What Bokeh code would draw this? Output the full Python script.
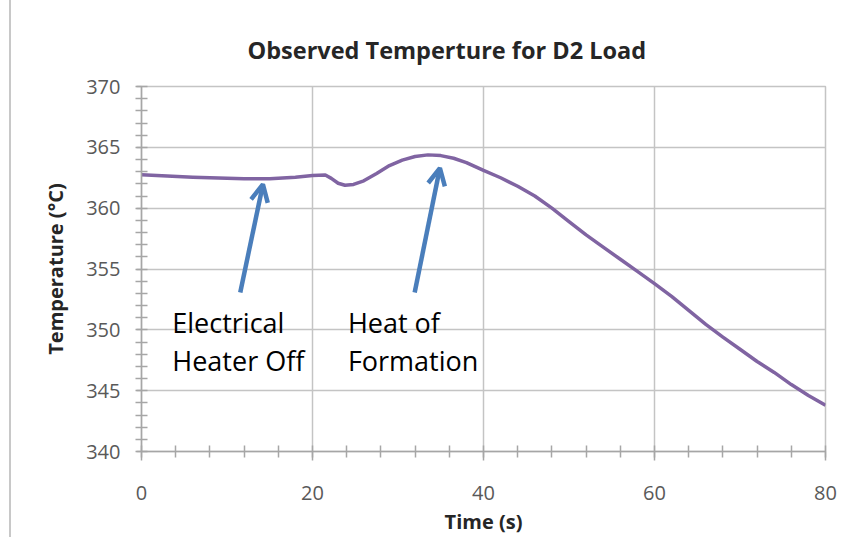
from bokeh.plotting import figure
from bokeh.embed import file_html
from bokeh.resources import INLINE
from bokeh.models import Range1d, SingleIntervalTicker, Label, Arrow, OpenHead, Title

# ---- data ----
time_s = [0, 3, 6, 9, 12, 15, 18, 20, 21.5, 22.2, 23.0, 23.8, 24.8, 26.0, 27.5,
          29.0, 30.5, 32.0, 33.5, 35.0, 36.5, 38.0, 40.0, 42.0, 44.0, 46.0, 48.0,
          50.0, 52.0, 54.0, 56.0, 58.0, 60.0, 62.0, 64.0, 66.0, 68.0, 70.0, 72.0,
          74.0, 76.0, 78.0, 80.0]
temp_c = [362.75, 362.65, 362.55, 362.47, 362.42, 362.42, 362.55, 362.68, 362.72,
          362.45, 362.05, 361.88, 361.95, 362.25, 362.85, 363.5, 363.95, 364.25,
          364.38, 364.32, 364.1, 363.75, 363.1, 362.5, 361.8, 361.0, 360.0, 358.9,
          357.8, 356.8, 355.8, 354.8, 353.8, 352.75, 351.6, 350.45, 349.4, 348.4,
          347.4, 346.5, 345.5, 344.6, 343.8]

# annotations: (tail x, tail y, head x, head y)
arrow_tail_x = [11.55, 31.95]
arrow_tail_y = [353.07, 353.07]
arrow_head_x = [14.2, 34.9]
arrow_head_y = [361.95, 363.3]
note_lines = [["Electrical", "Heater Off"], ["Heat of", "Formation"]]
note_x = [3.6, 24.14]
note_y = [350.6, 350.6]

title_text = "Observed Temperture for D2 Load"
x_label = "Time (s)"
y_label = "Temperature (°C)"

GRID = "#c4c4c4"
AXIS = "#a6a6a6"
TICKTXT = "#595959"
FONT = "Open Sans"

p = figure(width=852, height=537, x_range=Range1d(0, 80), y_range=Range1d(340, 370),
           output_backend="svg", toolbar_location=None,
           min_border_left=141, min_border_right=27, min_border_top=86,
           min_border_bottom=84)

# thin grey page edge seen at the left of the reference
p.border_fill_color = None
p.background_fill_color = "white"
p.styles = {"background": "linear-gradient(to right, white 9px, #c8c8c8 9px, "
                          "#c8c8c8 11px, white 11px)"}

p.title = Title(text=title_text, align="left", offset=106, standoff=38,
                vertical_align="top",
                text_font=FONT, text_font_size="23.5px", text_font_style="bold",
                text_color="#262626")

p.xaxis.ticker = SingleIntervalTicker(interval=20, num_minor_ticks=5)
p.yaxis.ticker = SingleIntervalTicker(interval=5, num_minor_ticks=5)

for ax in (p.xaxis[0], p.yaxis[0]):
    ax.axis_line_color = AXIS
    ax.axis_line_width = 1.5
    ax.major_tick_line_color = AXIS
    ax.major_tick_line_width = 1.5
    ax.minor_tick_line_color = AXIS
    ax.minor_tick_line_width = 1.5
    ax.minor_tick_in = 6
    ax.minor_tick_out = 6
    ax.major_tick_in = 0
    ax.major_label_text_font = FONT
    ax.major_label_text_font_size = "20px"
    ax.major_label_text_color = TICKTXT
    ax.axis_label_text_font = FONT
    ax.axis_label_text_font_size = "20px"
    ax.axis_label_text_font_style = "bold"
    ax.axis_label_text_color = "#262626"

p.xaxis.axis_label = x_label
p.yaxis.axis_label = y_label
p.xaxis.major_tick_out = 9
p.yaxis.major_tick_out = 5
p.xaxis.major_label_standoff = 25
p.yaxis.major_label_standoff = 15
p.xaxis.axis_label_standoff = 5
p.yaxis.axis_label_standoff = 14

p.xgrid.grid_line_color = GRID
p.ygrid.grid_line_color = GRID
p.xgrid.grid_line_width = 1.5
p.ygrid.grid_line_width = 1.5
p.outline_line_color = GRID
p.outline_line_width = 1.5

p.line(time_s, temp_c, line_color="#8064a2", line_width=3.5, line_join="round")

for tx, ty, hx, hy in zip(arrow_tail_x, arrow_tail_y, arrow_head_x, arrow_head_y):
    p.add_layout(Arrow(x_start=tx, y_start=ty, x_end=hx, y_end=hy,
                       line_color="#4a7ebb", line_width=4.5,
                       end=OpenHead(size=17, line_color="#4a7ebb", line_width=4.5)))

for lines, lx, ly in zip(note_lines, note_x, note_y):
    p.add_layout(Label(x=lx, y=ly, text=lines[0], text_font=FONT,
                       text_font_size="27px", text_color="#000000",
                       text_baseline="alphabetic"))
    p.add_layout(Label(x=lx, y=ly - 3.1, text=lines[1], text_font=FONT,
                       text_font_size="27px", text_color="#000000",
                       text_baseline="alphabetic"))

open("out.html", "w").write(file_html(p, INLINE))
